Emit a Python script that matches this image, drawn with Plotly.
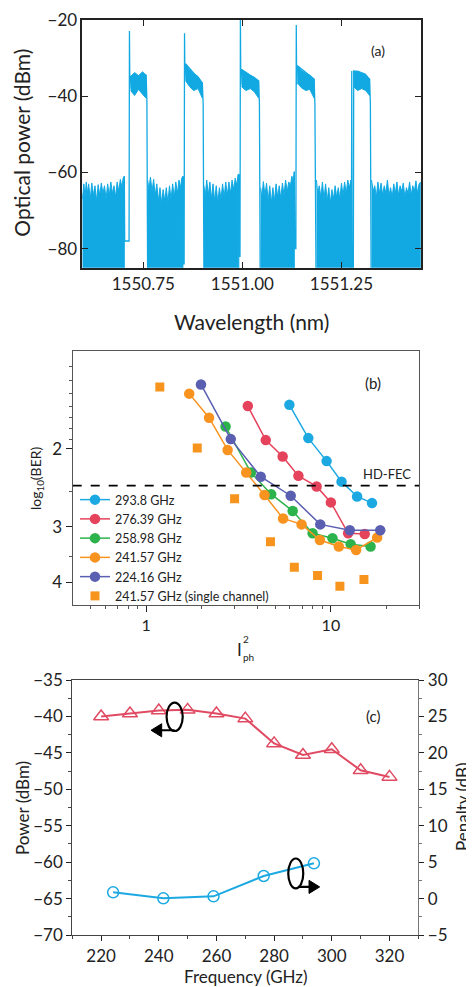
import math
import plotly.graph_objects as go

W, H = 474, 987          # browser window
OFF = 8                  # page body margin of the viewer
FW, FH = W - OFF, H - OFF  # figure size that fits the visible window
FONT = "Lato"
BLUE = "#12A9E3"

# ---------------- Panel (a): optical spectrum ----------------
FLOOR = -90.0  # noise trace continues below the axis bottom

NOISE_A_WL = [1550.596, 1550.600, 1550.603, 1550.606, 1550.609, 1550.612, 1550.616, 1550.620, 1550.624, 1550.628,
              1550.632, 1550.636, 1550.640, 1550.644, 1550.648, 1550.652, 1550.656, 1550.660, 1550.664, 1550.668,
              1550.672, 1550.676, 1550.680, 1550.684, 1550.688, 1550.692, 1550.696, 1550.699, 1550.702]
NOISE_A_DBM = [-67.0, -63.0, -66.5, -62.5, -65.5, -63.0, -67.0, -62.8, -66.0, -63.5,
               -67.5, -63.2, -66.0, -62.8, -65.5, -63.5, -67.0, -63.0, -66.0, -62.5,
               -65.5, -63.5, -66.5, -62.5, -65.0, -61.8, -64.0, -61.5, -61.0]
NOISE_B_WL = [1550.761, 1550.764, 1550.768, 1550.772, 1550.776, 1550.780, 1550.784, 1550.788, 1550.792, 1550.796,
              1550.800, 1550.804, 1550.808, 1550.812, 1550.816, 1550.820, 1550.824, 1550.828, 1550.832, 1550.836,
              1550.840, 1550.844, 1550.847, 1550.850]
NOISE_B_DBM = [-62.0, -64.5, -61.2, -65.0, -61.8, -66.0, -63.0, -67.5, -64.0, -68.0,
               -64.5, -67.5, -64.0, -68.0, -63.5, -67.0, -63.0, -66.5, -62.5, -65.5,
               -62.0, -64.0, -61.5, -61.0]
NOISE_C_WL = [1550.903, 1550.906, 1550.910, 1550.914, 1550.918, 1550.922, 1550.926, 1550.930, 1550.934, 1550.938,
              1550.942, 1550.946, 1550.950, 1550.954, 1550.958, 1550.962, 1550.966, 1550.970, 1550.974, 1550.978,
              1550.982, 1550.986, 1550.989, 1550.991]
NOISE_C_DBM = [-63.5, -66.5, -62.0, -66.0, -62.5, -67.0, -63.0, -67.5, -63.5, -68.0,
               -64.0, -67.0, -63.0, -66.5, -62.5, -66.0, -62.5, -65.5, -62.0, -64.5,
               -61.5, -63.5, -60.5, -60.5]
NOISE_D_WL = [1551.046, 1551.049, 1551.053, 1551.057, 1551.061, 1551.065, 1551.069, 1551.073, 1551.077, 1551.081,
              1551.085, 1551.089, 1551.093, 1551.097, 1551.101, 1551.105, 1551.109, 1551.113, 1551.117, 1551.121,
              1551.125, 1551.128, 1551.131]
NOISE_D_DBM = [-64.0, -66.5, -62.4, -66.0, -62.8, -67.5, -63.5, -68.0, -64.0, -67.5,
               -63.0, -66.5, -63.5, -67.0, -62.8, -66.0, -62.0, -65.0, -62.5, -63.5,
               -61.0, -62.5, -59.8]
NOISE_E_WL = [1551.187, 1551.190, 1551.194, 1551.198, 1551.202, 1551.206, 1551.210, 1551.214, 1551.218, 1551.222,
              1551.226, 1551.230, 1551.234, 1551.238, 1551.242, 1551.246, 1551.250, 1551.254, 1551.258, 1551.262,
              1551.266, 1551.270, 1551.274]
NOISE_E_DBM = [-62.0, -65.5, -63.5, -66.5, -62.5, -67.0, -63.0, -67.5, -64.0, -68.0,
               -64.5, -67.0, -63.5, -66.5, -64.0, -67.0, -62.8, -66.0, -62.5, -65.5,
               -62.0, -64.0, -62.0]
NOISE_F_WL = [1551.326, 1551.330, 1551.334, 1551.338, 1551.342, 1551.346, 1551.350, 1551.354, 1551.358, 1551.362,
              1551.366, 1551.370, 1551.374, 1551.378, 1551.382, 1551.386, 1551.390, 1551.394, 1551.398, 1551.402,
              1551.406, 1551.410, 1551.414, 1551.418, 1551.422, 1551.426, 1551.430, 1551.434, 1551.438, 1551.442,
              1551.446, 1551.450]
NOISE_F_DBM = [-62.0, -65.0, -63.5, -66.5, -62.5, -65.5, -62.8, -66.0, -63.5, -65.5,
               -62.0, -66.0, -64.0, -66.5, -63.0, -65.5, -62.5, -66.0, -63.5, -65.0,
               -62.8, -66.5, -64.0, -65.5, -62.5, -66.0, -63.5, -65.0, -62.2, -65.5,
               -63.0, -62.5]

# channel outlines (rise, carrier spike, plateau, fall)
CH1_WL = [1550.702, 1550.703, 1550.714, 1550.715, 1550.716, 1550.718, 1550.757, 1550.759, 1550.761]
CH1_DBM = [-61.0, -78.0, -78.0, -22.9, -38.0, -34.8, -34.5, -41.0, -90.0]
CH2_WL = [1550.850, 1550.851, 1550.853, 1550.854, 1550.855, 1550.857, 1550.899, 1550.901, 1550.903]
CH2_DBM = [-61.0, -84.0, -84.0, -23.5, -36.0, -31.5, -36.5, -42.0, -90.0]
CH3_WL = [1550.991, 1550.992, 1550.994, 1550.995, 1550.996, 1550.998, 1551.041, 1551.043, 1551.045]
CH3_DBM = [-60.5, -82.0, -82.0, -19.5, -37.0, -33.0, -36.0, -42.0, -90.0]
CH4_WL = [1551.131, 1551.132, 1551.135, 1551.136, 1551.137, 1551.139, 1551.181, 1551.183, 1551.186]
CH4_DBM = [-59.8, -80.0, -80.0, -21.3, -37.0, -32.0, -35.5, -42.0, -90.0]
CH5_WL = [1551.274, 1551.275, 1551.276, 1551.277, 1551.280, 1551.281, 1551.321, 1551.323, 1551.325]
CH5_DBM = [-62.0, -88.0, -33.4, -88.0, -88.0, -33.4, -35.5, -42.0, -90.0]

# modulated plateaus (top / bottom envelope)
PL1_WL = [1550.718, 1550.728, 1550.738, 1550.748, 1550.757]
PL1_TOP = [-34.8, -33.8, -34.6, -33.6, -34.5]
PL1_BOT = [-38.5, -39.8, -38.2, -39.5, -40.5]
PL2_WL = [1550.857, 1550.867, 1550.877, 1550.888, 1550.899]
PL2_TOP = [-31.5, -33.0, -34.0, -34.8, -36.5]
PL2_BOT = [-36.0, -37.5, -38.5, -38.0, -40.5]
PL3_WL = [1550.998, 1551.009, 1551.020, 1551.030, 1551.041]
PL3_TOP = [-33.0, -33.8, -34.5, -35.0, -36.0]
PL3_BOT = [-37.5, -38.5, -38.0, -38.8, -40.5]
PL4_WL = [1551.139, 1551.149, 1551.160, 1551.170, 1551.181]
PL4_TOP = [-32.0, -33.2, -34.0, -34.5, -35.5]
PL4_BOT = [-36.5, -37.8, -38.5, -38.2, -40.5]
PL5_WL = [1551.281, 1551.291, 1551.301, 1551.311, 1551.321]
PL5_TOP = [-33.4, -33.4, -33.8, -34.2, -35.5]
PL5_BOT = [-37.5, -38.5, -38.0, -38.5, -39.8]

A_XTICKS = [1550.75, 1551.00, 1551.25]
A_YTICKS = [-80, -60, -40, -20]

# ---------------- Panel (b): BER curves ----------------
B_LABELS = ["293.8 GHz", "276.39 GHz", "258.98 GHz", "241.57 GHz", "224.16 GHz"]
B_COLORS = ["#1CA9E2", "#E5435B", "#2DB34B", "#F7931E", "#5B5FB2"]
B_X_2938 = [5.96, 7.55, 9.48, 11.42, 13.87, 16.7]
B_Y_2938 = [1.59, 1.89, 2.13, 2.37, 2.56, 2.65]
B_X_27639 = [3.55, 4.44, 5.48, 6.67, 8.37, 10.0, 12.4, 15.25]
B_Y_27639 = [1.60, 1.91, 2.08, 2.30, 2.43, 2.64, 3.10, 3.11]
B_X_25898 = [2.69, 3.69, 4.75, 6.21, 7.96, 10.2, 12.8, 16.4]
B_Y_25898 = [1.78, 2.26, 2.53, 2.76, 3.10, 3.18, 3.28, 3.32]
B_X_24157 = [1.71, 2.19, 2.76, 3.48, 4.37, 5.51, 6.94, 8.72, 11.04, 13.7, 17.8]
B_Y_24157 = [1.50, 1.70, 2.01, 2.26, 2.54, 2.87, 2.96, 3.21, 3.32, 3.38, 3.17]
B_X_22416 = [1.98, 2.87, 4.17, 6.06, 8.76, 12.66, 18.5]
B_Y_22416 = [1.43, 1.90, 2.31, 2.55, 2.96, 3.05, 3.05]
B_SINGLE_LABEL = "241.57 GHz (single channel)"
B_X_SINGLE = [1.185, 1.89, 3.01, 4.71, 6.34, 8.47, 11.19, 15.1]
B_Y_SINGLE = [1.45, 1.99, 2.59, 3.24, 3.70, 3.86, 4.08, 3.94]
HD_FEC = 2.42
B_XRANGE = [0.4, 30]
B_YRANGE = [4.5, 1.2]
B_XMINOR = [0.5, 0.6, 0.7, 0.8, 0.9, 2, 3, 4, 5, 6, 7, 8, 9, 20, 30]
B_YMINOR = [1.3, 1.4, 1.5, 1.6, 1.7, 1.8, 1.9, 2.5, 3.5]

# ---------------- Panel (c): power / penalty ----------------
C_FREQ_POWER = [220, 230, 240, 250, 260, 270, 280, 290, 300, 310, 320]
C_POWER = [-40.0, -39.6, -39.2, -39.1, -39.6, -40.3, -43.7, -45.3, -44.5, -47.4, -48.3]
C_FREQ_PEN = [224.16, 241.57, 258.98, 276.39, 293.8]
C_PENALTY = [0.86, 0.03, 0.31, 3.1, 4.84]
C_RED = "#E04A62"
C_CYAN = "#1CA9E2"

fig = go.Figure()

# panel (a)
noise = [(NOISE_A_WL, NOISE_A_DBM), (NOISE_B_WL, NOISE_B_DBM), (NOISE_C_WL, NOISE_C_DBM),
         (NOISE_D_WL, NOISE_D_DBM), (NOISE_E_WL, NOISE_E_DBM), (NOISE_F_WL, NOISE_F_DBM)]
for wl, db in noise:
    fig.add_trace(go.Scatter(x=wl + [wl[-1], wl[0]], y=db + [FLOOR, FLOOR], mode="lines",
                             fill="toself", fillcolor=BLUE, line=dict(color=BLUE, width=1),
                             xaxis="x", yaxis="y", showlegend=False, hoverinfo="skip"))
plats = [(PL1_WL, PL1_TOP, PL1_BOT), (PL2_WL, PL2_TOP, PL2_BOT), (PL3_WL, PL3_TOP, PL3_BOT),
         (PL4_WL, PL4_TOP, PL4_BOT), (PL5_WL, PL5_TOP, PL5_BOT)]
for wl, top, bot in plats:
    fig.add_trace(go.Scatter(x=wl + wl[::-1], y=top + bot[::-1], mode="lines", fill="toself",
                             fillcolor=BLUE, line=dict(color=BLUE, width=1),
                             xaxis="x", yaxis="y", showlegend=False, hoverinfo="skip"))
for wl, db in [(CH1_WL, CH1_DBM), (CH2_WL, CH2_DBM), (CH3_WL, CH3_DBM), (CH4_WL, CH4_DBM), (CH5_WL, CH5_DBM)]:
    fig.add_trace(go.Scatter(x=wl, y=db, mode="lines", line=dict(color=BLUE, width=1.3),
                             xaxis="x", yaxis="y", showlegend=False, hoverinfo="skip"))

# panel (b)
b_series = [(B_X_2938, B_Y_2938), (B_X_27639, B_Y_27639), (B_X_25898, B_Y_25898),
            (B_X_24157, B_Y_24157), (B_X_22416, B_Y_22416)]
for (xs, ys), lab, col in zip(b_series, B_LABELS, B_COLORS):
    fig.add_trace(go.Scatter(x=xs, y=ys, name=lab, mode="lines+markers",
                             line=dict(color=col, width=1.5),
                             marker=dict(color=col, size=10.5, symbol="circle"),
                             xaxis="x2", yaxis="y2"))
fig.add_trace(go.Scatter(x=B_X_SINGLE, y=B_Y_SINGLE, name=B_SINGLE_LABEL, mode="markers",
                         marker=dict(color="#F7941D", size=9, symbol="square"),
                         xaxis="x2", yaxis="y2"))
fig.add_trace(go.Scatter(x=B_XRANGE, y=[HD_FEC, HD_FEC], mode="lines",
                         line=dict(color="black", width=1.8, dash="dash"),
                         xaxis="x2", yaxis="y2", showlegend=False, hoverinfo="skip"))

# panel (c)
fig.add_trace(go.Scatter(x=C_FREQ_POWER, y=C_POWER, mode="lines+markers",
                         line=dict(color=C_RED, width=2),
                         marker=dict(symbol="triangle-up-open", size=13, color=C_RED, line=dict(width=1.5)),
                         xaxis="x3", yaxis="y3", showlegend=False))
fig.add_trace(go.Scatter(x=C_FREQ_PEN, y=C_PENALTY, mode="lines+markers",
                         line=dict(color=C_CYAN, width=2),
                         marker=dict(symbol="circle-open", size=11, color=C_CYAN, line=dict(width=1.5)),
                         xaxis="x3", yaxis="y4", showlegend=False))


def dx(px):
    return (px - OFF) / FW


def dy(py):
    return 1 - (py - OFF) / FH


AX = dict(showgrid=False, zeroline=False, showline=True, color="#222", automargin=False,
          tickfont=dict(family=FONT, size=17, color="#222"))

layout_axes = dict(
    xaxis=dict(AX, domain=[dx(82.3), dx(420.7)], anchor="y", range=[1550.596, 1551.45],
               tickvals=A_XTICKS, tickformat=".2f", ticks="inside", ticklen=6, mirror="ticks",
               linecolor="#222", linewidth=1.5),
    yaxis=dict(AX, domain=[dy(267.7), dy(20)], anchor="x", range=[-85, -20],
               tickvals=A_YTICKS, ticks="inside", ticklen=6, mirror="ticks",
               linecolor="#222", linewidth=1.5),
    xaxis2=dict(AX, type="log", domain=[dx(72.7), dx(419)], anchor="y2",
                range=[math.log10(B_XRANGE[0]), math.log10(B_XRANGE[1])],
                tickvals=[1, 10], ticktext=["1", "10"], ticks="outside", ticklen=6, mirror=True,
                linecolor="#555", linewidth=1.3,
                minor=dict(tickvals=B_XMINOR, ticks="outside", ticklen=3, tickcolor="#555"),
                tickfont=dict(family=FONT, size=16, color="#222")),
    yaxis2=dict(AX, type="log", domain=[dy(605), dy(350.7)], anchor="x2",
                range=[math.log10(B_YRANGE[0]), math.log10(B_YRANGE[1])],
                tickvals=[2, 3, 4], ticktext=["2", "3", "4"], ticks="outside", ticklen=6, mirror=True,
                linecolor="#555", linewidth=1.3,
                minor=dict(tickvals=B_YMINOR, ticks="outside", ticklen=3, tickcolor="#555"),
                tickfont=dict(family=FONT, size=17, color="#222")),
    xaxis3=dict(AX, domain=[dx(72.3), dx(418.3)], anchor="y3", range=[210, 330],
                tickvals=[220, 240, 260, 280, 300, 320], ticks="outside", ticklen=5, mirror=True,
                linecolor="#444", linewidth=1.3,
                minor=dict(dtick=10, tick0=210, ticks="outside", ticklen=3, tickcolor="#444"),
                tickfont=dict(family=FONT, size=17, color="#222")),
    yaxis3=dict(AX, domain=[dy(935), dy(680)], anchor="x3", range=[-70, -35], dtick=5,
                ticks="outside", ticklen=5, linecolor="#444", linewidth=1.3,
                minor=dict(dtick=2.5, ticks="outside", ticklen=3, tickcolor="#444"),
                tickfont=dict(family=FONT, size=17, color="#222")),
    yaxis4=dict(AX, overlaying="y3", side="right", anchor="x3", range=[-5, 30], dtick=5,
                ticks="outside", ticklen=5, linecolor="#777", linewidth=1.3,
                minor=dict(dtick=2.5, ticks="outside", ticklen=3, tickcolor="#777"),
                tickfont=dict(family=FONT, size=17, color="#222")),
)


def txt(x, y, s, size, angle=0, xanchor="center", yanchor="middle", color="#222"):
    return dict(x=dx(x), y=dy(y), xref="paper", yref="paper", text=s, showarrow=False,
                textangle=angle, xanchor=xanchor, yanchor=yanchor,
                font=dict(family=FONT, size=size, color=color))


annotations = [
    txt(21.7, 143, "Optical power (dBm)", 21, -90),
    txt(251.7, 321.7, "Wavelength (nm)", 21),
    txt(378.3, 50.7, "(a)", 14),
    txt(36, 478, "log<sub>10</sub>(BER)", 14, -90),
    txt(372.7, 382.7, "(b)", 15),
    txt(413, 474, "HD-FEC", 13, xanchor="right"),
    txt(239.5, 649, "I", 17),
    txt(245.5, 639, "2", 10),
    txt(248.5, 657, "ph", 10),
    txt(22, 808, "Power (dBm)", 17, -90),
    txt(462, 807, "Penalty (dB)", 17, -90),
    txt(245.7, 976, "Frequency (GHz)", 17),
    txt(373, 716, "(c)", 15),
]

# rotation markers (ellipse + arrow) in panel (c)
shapes = [
    dict(type="circle", xref="x3", yref="y3", x0=242.7, x1=248.3, y0=-42.0, y1=-38.1,
         line=dict(color="black", width=2.2)),
    dict(type="line", xref="x3", yref="y3", x0=245.5, x1=240.0, y0=-41.9, y1=-41.9,
         line=dict(color="black", width=2.2)),
    dict(type="path", xref="x3", yref="y3", path="M 237.3 -41.9 L 241.0 -41.0 L 241.0 -42.8 Z",
         fillcolor="black", line=dict(color="black", width=1)),
    dict(type="circle", xref="x3", yref="y3", x0=284.9, x1=290.1, y0=-63.6, y1=-59.5,
         line=dict(color="black", width=2.2)),
    dict(type="line", xref="x3", yref="y3", x0=288.4, x1=293.0, y0=-63.4, y1=-63.4,
         line=dict(color="black", width=2.2)),
    dict(type="path", xref="x3", yref="y3", path="M 295.8 -63.4 L 292.1 -62.5 L 292.1 -64.3 Z",
         fillcolor="black", line=dict(color="black", width=1)),
]

fig.update_layout(
    width=FW, height=FH, margin=dict(l=0, r=0, t=0, b=0, autoexpand=False),
    paper_bgcolor="white", plot_bgcolor="white",
    font=dict(family=FONT, color="#222"),
    showlegend=True,
    legend=dict(x=dx(75), y=dy(485), xanchor="left", yanchor="top", bgcolor="rgba(0,0,0,0)",
                font=dict(family=FONT, size=12.5, color="#222"), tracegroupgap=0, itemwidth=30),
    annotations=annotations, shapes=shapes,
    **layout_axes,
)

fig.write_html("out.html")
